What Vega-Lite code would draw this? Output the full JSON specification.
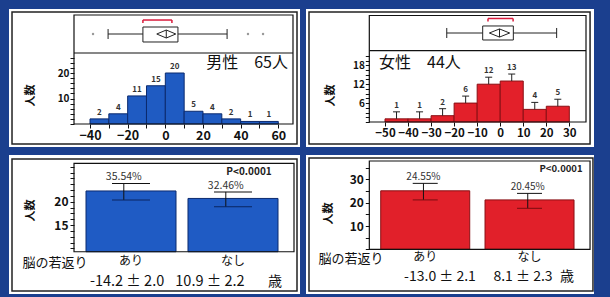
{
  "$schema": "https://vega.github.io/schema/vega-lite/v6.json",
  "background": "#1b3f8e",
  "padding": {"left": 9, "top": 9, "right": 16, "bottom": 3},
  "datasets": {
    "male_hist": [
      {"b0": -40, "b1": -30, "mid": -35, "n": 2},
      {"b0": -30, "b1": -20, "mid": -25, "n": 4},
      {"b0": -20, "b1": -10, "mid": -15, "n": 11},
      {"b0": -10, "b1": 0, "mid": -5, "n": 15},
      {"b0": 0, "b1": 10, "mid": 5, "n": 20},
      {"b0": 10, "b1": 20, "mid": 15, "n": 5},
      {"b0": 20, "b1": 30, "mid": 25, "n": 4},
      {"b0": 30, "b1": 40, "mid": 35, "n": 2},
      {"b0": 40, "b1": 50, "mid": 45, "n": 1},
      {"b0": 50, "b1": 60, "mid": 55, "n": 1}
    ],
    "female_hist": [
      {"b0": -50, "b1": -40, "mid": -45, "n": 1},
      {"b0": -40, "b1": -30, "mid": -35, "n": 1},
      {"b0": -30, "b1": -20, "mid": -25, "n": 2},
      {"b0": -20, "b1": -10, "mid": -15, "n": 6},
      {"b0": -10, "b1": 0, "mid": -5, "n": 12},
      {"b0": 0, "b1": 10, "mid": 5, "n": 13},
      {"b0": 10, "b1": 20, "mid": 15, "n": 4},
      {"b0": 20, "b1": 30, "mid": 25, "n": 5}
    ],
    "male_box": [{"wlo": -30.4, "q1": -11.9, "q3": 6.7, "whi": 32.8, "mean": 0.5, "slo": -11.9, "shi": 3.5, "title": "男性　65人"}],
    "male_out": [{"v": -38.4}, {"v": 43.9}, {"v": 51.9}],
    "female_box": [{"wlo": -23.2, "q1": -7.6, "q3": 5.7, "whi": 24.5, "mean": -0.3, "slo": -5.3, "shi": 5.6, "title": "女性　44人"}],
    "male_age": [
      {"g": "あり", "n": 22.3, "lo": 20.36, "hi": 23.9, "pct": "35.54%", "age": "-14.2 ± 2.0"},
      {"g": "なし", "n": 20.7, "lo": 18.9, "hi": 22.1, "pct": "32.46%", "age": "10.9 ± 2.2"}
    ],
    "female_age": [
      {"g": "あり", "n": 25.1, "lo": 21.2, "hi": 28.3, "pct": "24.55%", "age": "-13.0 ± 2.1"},
      {"g": "なし", "n": 21.2, "lo": 17.6, "hi": 24.0, "pct": "20.45%", "age": "8.1 ± 2.3"}
    ],
    "notes": [{"head": "脳の若返り", "unit": "歳", "p": "P<0.0001"}]
  },
  "spacing": 8,
  "vconcat": [
    {
      "spacing": 6,
      "hconcat": [
        {
          "width": 291, "height": 138,
          "resolve": {"axis": {"x": "independent", "y": "independent"}},
          "layer": [
            {"data": {"name": "male_hist"},
             "mark": {"type": "rect", "fill": "#1f5bc2", "stroke": "#0b2a6e", "strokeWidth": 1},
             "encoding": {
               "x": {"field": "b0", "type": "quantitative", "scale": {"domain": [-83.02, 71.52], "nice": false, "zero": false},
                     "axis": {"orient": "bottom", "offset": -23, "values": [-40, -30, -20, -10, 0, 10, 20, 30, 40, 50, 60], "labelExpr": "datum.value % 20 == 0 ? datum.label : ''", "tickSize": 4, "labelFontSize": 12.5, "labelFontWeight": "bold", "labelPadding": 1, "title": null, "labelOverlap": false, "labelFlush": false}},
               "x2": {"field": "b1"},
               "y": {"field": "n", "type": "quantitative", "scale": {"domain": [-9.02, 45.1], "nice": false, "zero": false},
                     "axis": {"orient": "left", "offset": -65, "values": [0, 2, 4, 6, 8, 10, 12, 14, 16, 18, 20, 22, 24, 26], "labelExpr": "datum.value == 10 || datum.value == 20 ? datum.label : ''", "tickSize": 4, "labelFontSize": 10, "labelFontWeight": "bold", "labelPadding": 1, "title": "人数", "titleX": -44, "titleY": 86, "titleAngle": 270, "titleFontSize": 11, "titleAlign": "center", "titleBaseline": "middle", "labelOverlap": false, "labelFlush": false}},
               "y2": {"datum": 0}}},
            {"data": {"name": "male_hist"},
             "mark": {"type": "text", "baseline": "bottom", "dy": -2, "fontSize": 8, "fontWeight": "bold", "color": "#333"},
             "encoding": {
               "x": {"field": "mid", "type": "quantitative", "scale": {"domain": [-83.02, 71.52], "nice": false, "zero": false}, "axis": null},
               "y": {"field": "n", "type": "quantitative", "scale": {"domain": [-9.02, 45.1], "nice": false, "zero": false}, "axis": null},
               "text": {"field": "n"}}},
            {"data": {"name": "male_box"},
             "mark": {"type": "rule", "color": "#222", "strokeWidth": 1},
             "encoding": {
               "x": {"field": "wlo", "type": "quantitative", "scale": {"domain": [-83.02, 71.52], "nice": false, "zero": false}, "axis": null},
               "x2": {"field": "whi"},
               "y": {"datum": 35.29, "type": "quantitative", "scale": {"domain": [-9.02, 45.1], "nice": false, "zero": false}, "axis": null}}},
            {"data": {"name": "male_box"},
             "mark": {"type": "rule", "color": "#222", "strokeWidth": 1},
             "encoding": {
               "x": {"field": "wlo", "type": "quantitative", "scale": {"domain": [-83.02, 71.52], "nice": false, "zero": false}, "axis": null},
               "y": {"datum": 37.25, "type": "quantitative", "scale": {"domain": [-9.02, 45.1], "nice": false, "zero": false}, "axis": null},
               "y2": {"datum": 33.33}}},
            {"data": {"name": "male_box"},
             "mark": {"type": "rule", "color": "#222", "strokeWidth": 1},
             "encoding": {
               "x": {"field": "whi", "type": "quantitative", "scale": {"domain": [-83.02, 71.52], "nice": false, "zero": false}, "axis": null},
               "y": {"datum": 37.25, "type": "quantitative", "scale": {"domain": [-9.02, 45.1], "nice": false, "zero": false}, "axis": null},
               "y2": {"datum": 33.33}}},
            {"data": {"name": "male_box"},
             "mark": {"type": "rect", "fill": "white", "stroke": "#222", "strokeWidth": 1},
             "encoding": {
               "x": {"field": "q1", "type": "quantitative", "scale": {"domain": [-83.02, 71.52], "nice": false, "zero": false}, "axis": null},
               "x2": {"field": "q3"},
               "y": {"datum": 32.16, "type": "quantitative", "scale": {"domain": [-9.02, 45.1], "nice": false, "zero": false}, "axis": null},
               "y2": {"datum": 38.04}}},
            {"data": {"name": "male_box"},
             "mark": {"type": "point", "shape": "M-1,0L0,-0.42L1,0L0,0.42ZM0,-0.42L0,0.42", "size": 361, "filled": false, "stroke": "#222", "strokeWidth": 1, "opacity": 1},
             "encoding": {
               "x": {"field": "mean", "type": "quantitative", "scale": {"domain": [-83.02, 71.52], "nice": false, "zero": false}, "axis": null},
               "y": {"datum": 35.29, "type": "quantitative", "scale": {"domain": [-9.02, 45.1], "nice": false, "zero": false}, "axis": null}}},
            {"data": {"name": "male_box"},
             "mark": {"type": "rule", "color": "#d81b3c", "strokeWidth": 1.5},
             "encoding": {
               "x": {"field": "slo", "type": "quantitative", "scale": {"domain": [-83.02, 71.52], "nice": false, "zero": false}, "axis": null},
               "x2": {"field": "shi"},
               "y": {"datum": 40.78, "type": "quantitative", "scale": {"domain": [-9.02, 45.1], "nice": false, "zero": false}, "axis": null}}},
            {"data": {"name": "male_box"},
             "mark": {"type": "rule", "color": "#d81b3c", "strokeWidth": 1.5},
             "encoding": {
               "x": {"field": "slo", "type": "quantitative", "scale": {"domain": [-83.02, 71.52], "nice": false, "zero": false}, "axis": null},
               "y": {"datum": 40.78, "type": "quantitative", "scale": {"domain": [-9.02, 45.1], "nice": false, "zero": false}, "axis": null},
               "y2": {"datum": 39.6}}},
            {"data": {"name": "male_box"},
             "mark": {"type": "rule", "color": "#d81b3c", "strokeWidth": 1.5},
             "encoding": {
               "x": {"field": "shi", "type": "quantitative", "scale": {"domain": [-83.02, 71.52], "nice": false, "zero": false}, "axis": null},
               "y": {"datum": 40.78, "type": "quantitative", "scale": {"domain": [-9.02, 45.1], "nice": false, "zero": false}, "axis": null},
               "y2": {"datum": 39.6}}},
            {"data": {"name": "male_out"},
             "mark": {"type": "point", "filled": true, "size": 6, "color": "#999", "opacity": 1},
             "encoding": {
               "x": {"field": "v", "type": "quantitative", "scale": {"domain": [-83.02, 71.52], "nice": false, "zero": false}, "axis": null},
               "y": {"datum": 35.29, "type": "quantitative", "scale": {"domain": [-9.02, 45.1], "nice": false, "zero": false}, "axis": null}}},
            {"data": {"name": "male_box"},
             "mark": {"type": "text", "align": "right", "baseline": "middle", "fontSize": 16, "color": "#111"},
             "encoding": {
               "x": {"datum": 65.15, "type": "quantitative", "scale": {"domain": [-83.02, 71.52], "nice": false, "zero": false}, "axis": null},
               "y": {"datum": 24.1, "type": "quantitative", "scale": {"domain": [-9.02, 45.1], "nice": false, "zero": false}, "axis": null},
               "text": {"field": "title"}}},
            {"data": {"values": [{}]},
             "mark": {"type": "rule", "color": "#111", "strokeWidth": 1.2},
             "encoding": {
               "x": {"datum": -48.5, "type": "quantitative", "scale": {"domain": [-83.02, 71.52], "nice": false, "zero": false}, "axis": null},
               "x2": {"datum": 67.8},
               "y": {"datum": 27.84, "type": "quantitative", "scale": {"domain": [-9.02, 45.1], "nice": false, "zero": false}, "axis": null}}},
            {"data": {"values": [{}]},
             "mark": {"type": "rect", "fill": "transparent", "stroke": "#111", "strokeWidth": 1.2},
             "encoding": {
               "x": {"datum": -48.5, "type": "quantitative", "scale": {"domain": [-83.02, 71.52], "nice": false, "zero": false}, "axis": null},
               "x2": {"datum": 67.8},
               "y": {"datum": 0, "type": "quantitative", "scale": {"domain": [-9.02, 45.1], "nice": false, "zero": false}, "axis": null},
               "y2": {"datum": 42.75}}},
            {"data": {"values": [{}]},
             "mark": {"type": "rect", "fill": "transparent", "stroke": "#222", "strokeWidth": 1.5},
             "encoding": {
               "x": {"datum": -81.42, "type": "quantitative", "scale": {"domain": [-83.02, 71.52], "nice": false, "zero": false}, "axis": null},
               "x2": {"datum": 69.93},
               "y": {"datum": -7.84, "type": "quantitative", "scale": {"domain": [-9.02, 45.1], "nice": false, "zero": false}, "axis": null},
               "y2": {"datum": 43.92}}}
          ]
        },
        {
          "width": 288, "height": 138,
          "resolve": {"axis": {"x": "independent", "y": "independent"}},
          "layer": [
            {"data": {"name": "female_hist"},
             "mark": {"type": "rect", "fill": "#e3202a", "stroke": "#8a0f14", "strokeWidth": 1},
             "encoding": {
               "x": {"field": "b0", "type": "quantitative", "scale": {"domain": [-84.29, 40.71], "nice": false, "zero": false},
                     "axis": {"orient": "bottom", "offset": -25, "values": [-50, -40, -30, -20, -10, 0, 10, 20, 30], "tickSize": 4, "labelFontSize": 11.5, "labelFontWeight": "bold", "labelPadding": 1, "title": null, "labelOverlap": false, "labelFlush": false, "labelSeparation": 0}},
               "x2": {"field": "b1"},
               "y": {"field": "n", "type": "quantitative", "scale": {"domain": [-7.94, 35.87], "nice": false, "zero": false},
                     "axis": {"orient": "left", "offset": -63.3, "values": [0, 1.5, 3, 4.5, 6, 7.5, 9, 10.5, 12, 13.5, 15, 16.5, 18, 19.5, 21], "labelExpr": "datum.value == 6 || datum.value == 12 || datum.value == 18 ? datum.label : ''", "tickSize": 4, "labelFontSize": 10, "labelFontWeight": "bold", "labelPadding": 1, "title": "人数", "titleX": -39, "titleY": 86, "titleAngle": 270, "titleFontSize": 11, "titleAlign": "center", "titleBaseline": "middle", "labelOverlap": false, "labelFlush": false}},
               "y2": {"datum": 0}}},
            {"data": {"name": "female_hist"},
             "mark": {"type": "rule", "color": "#222", "strokeWidth": 1, "y2Offset": -7},
             "encoding": {
               "x": {"field": "mid", "type": "quantitative", "scale": {"domain": [-84.29, 40.71], "nice": false, "zero": false}, "axis": null},
               "y": {"field": "n", "type": "quantitative", "scale": {"domain": [-7.94, 35.87], "nice": false, "zero": false}, "axis": null},
               "y2": {"field": "n"}}},
            {"data": {"name": "female_hist"},
             "mark": {"type": "tick", "orient": "horizontal", "size": 7, "thickness": 1, "yOffset": -7, "color": "#222", "opacity": 1},
             "encoding": {
               "x": {"field": "mid", "type": "quantitative", "scale": {"domain": [-84.29, 40.71], "nice": false, "zero": false}, "axis": null},
               "y": {"field": "n", "type": "quantitative", "scale": {"domain": [-7.94, 35.87], "nice": false, "zero": false}, "axis": null}}},
            {"data": {"name": "female_hist"},
             "mark": {"type": "text", "baseline": "bottom", "dy": -9, "fontSize": 8, "fontWeight": "bold", "color": "#333"},
             "encoding": {
               "x": {"field": "mid", "type": "quantitative", "scale": {"domain": [-84.29, 40.71], "nice": false, "zero": false}, "axis": null},
               "y": {"field": "n", "type": "quantitative", "scale": {"domain": [-7.94, 35.87], "nice": false, "zero": false}, "axis": null},
               "text": {"field": "n"}}},
            {"data": {"name": "female_box"},
             "mark": {"type": "rule", "color": "#222", "strokeWidth": 1},
             "encoding": {
               "x": {"field": "wlo", "type": "quantitative", "scale": {"domain": [-84.29, 40.71], "nice": false, "zero": false}, "axis": null},
               "x2": {"field": "whi"},
               "y": {"datum": 28.25, "type": "quantitative", "scale": {"domain": [-7.94, 35.87], "nice": false, "zero": false}, "axis": null}}},
            {"data": {"name": "female_box"},
             "mark": {"type": "rule", "color": "#222", "strokeWidth": 1},
             "encoding": {
               "x": {"field": "wlo", "type": "quantitative", "scale": {"domain": [-84.29, 40.71], "nice": false, "zero": false}, "axis": null},
               "y": {"datum": 29.84, "type": "quantitative", "scale": {"domain": [-7.94, 35.87], "nice": false, "zero": false}, "axis": null},
               "y2": {"datum": 26.66}}},
            {"data": {"name": "female_box"},
             "mark": {"type": "rule", "color": "#222", "strokeWidth": 1},
             "encoding": {
               "x": {"field": "whi", "type": "quantitative", "scale": {"domain": [-84.29, 40.71], "nice": false, "zero": false}, "axis": null},
               "y": {"datum": 29.84, "type": "quantitative", "scale": {"domain": [-7.94, 35.87], "nice": false, "zero": false}, "axis": null},
               "y2": {"datum": 26.66}}},
            {"data": {"name": "female_box"},
             "mark": {"type": "rect", "fill": "white", "stroke": "#222", "strokeWidth": 1},
             "encoding": {
               "x": {"field": "q1", "type": "quantitative", "scale": {"domain": [-84.29, 40.71], "nice": false, "zero": false}, "axis": null},
               "x2": {"field": "q3"},
               "y": {"datum": 26.03, "type": "quantitative", "scale": {"domain": [-7.94, 35.87], "nice": false, "zero": false}, "axis": null},
               "y2": {"datum": 30.48}}},
            {"data": {"name": "female_box"},
             "mark": {"type": "point", "shape": "M-1,0L0,-0.4L1,0L0,0.4ZM0,-0.4L0,0.4", "size": 412, "filled": false, "stroke": "#222", "strokeWidth": 1, "opacity": 1},
             "encoding": {
               "x": {"field": "mean", "type": "quantitative", "scale": {"domain": [-84.29, 40.71], "nice": false, "zero": false}, "axis": null},
               "y": {"datum": 28.25, "type": "quantitative", "scale": {"domain": [-7.94, 35.87], "nice": false, "zero": false}, "axis": null}}},
            {"data": {"name": "female_box"},
             "mark": {"type": "rule", "color": "#d81b3c", "strokeWidth": 1.5},
             "encoding": {
               "x": {"field": "slo", "type": "quantitative", "scale": {"domain": [-84.29, 40.71], "nice": false, "zero": false}, "axis": null},
               "x2": {"field": "shi"},
               "y": {"datum": 32.86, "type": "quantitative", "scale": {"domain": [-7.94, 35.87], "nice": false, "zero": false}, "axis": null}}},
            {"data": {"name": "female_box"},
             "mark": {"type": "rule", "color": "#d81b3c", "strokeWidth": 1.5},
             "encoding": {
               "x": {"field": "slo", "type": "quantitative", "scale": {"domain": [-84.29, 40.71], "nice": false, "zero": false}, "axis": null},
               "y": {"datum": 32.86, "type": "quantitative", "scale": {"domain": [-7.94, 35.87], "nice": false, "zero": false}, "axis": null},
               "y2": {"datum": 31.9}}},
            {"data": {"name": "female_box"},
             "mark": {"type": "rule", "color": "#d81b3c", "strokeWidth": 1.5},
             "encoding": {
               "x": {"field": "shi", "type": "quantitative", "scale": {"domain": [-84.29, 40.71], "nice": false, "zero": false}, "axis": null},
               "y": {"datum": 32.86, "type": "quantitative", "scale": {"domain": [-7.94, 35.87], "nice": false, "zero": false}, "axis": null},
               "y2": {"datum": 31.9}}},
            {"data": {"name": "female_box"},
             "mark": {"type": "text", "align": "left", "baseline": "middle", "fontSize": 16, "color": "#111"},
             "encoding": {
               "x": {"datum": -52.6, "type": "quantitative", "scale": {"domain": [-84.29, 40.71], "nice": false, "zero": false}, "axis": null},
               "y": {"datum": 18.73, "type": "quantitative", "scale": {"domain": [-7.94, 35.87], "nice": false, "zero": false}, "axis": null},
               "text": {"field": "title"}}},
            {"data": {"values": [{}]},
             "mark": {"type": "rule", "color": "#111", "strokeWidth": 1.2},
             "encoding": {
               "x": {"datum": -56.81, "type": "quantitative", "scale": {"domain": [-84.29, 40.71], "nice": false, "zero": false}, "axis": null},
               "x2": {"datum": 37.24},
               "y": {"datum": 22.63, "type": "quantitative", "scale": {"domain": [-7.94, 35.87], "nice": false, "zero": false}, "axis": null}}},
            {"data": {"values": [{}]},
             "mark": {"type": "rect", "fill": "transparent", "stroke": "#111", "strokeWidth": 1.2},
             "encoding": {
               "x": {"datum": -56.81, "type": "quantitative", "scale": {"domain": [-84.29, 40.71], "nice": false, "zero": false}, "axis": null},
               "x2": {"datum": 37.24},
               "y": {"datum": 0, "type": "quantitative", "scale": {"domain": [-7.94, 35.87], "nice": false, "zero": false}, "axis": null},
               "y2": {"datum": 33.8}}},
            {"data": {"values": [{}]},
             "mark": {"type": "rect", "fill": "transparent", "stroke": "#222", "strokeWidth": 1.5},
             "encoding": {
               "x": {"datum": -82.99, "type": "quantitative", "scale": {"domain": [-84.29, 40.71], "nice": false, "zero": false}, "axis": null},
               "x2": {"datum": 39.0},
               "y": {"datum": -6.98, "type": "quantitative", "scale": {"domain": [-7.94, 35.87], "nice": false, "zero": false}, "axis": null},
               "y2": {"datum": 34.92}}}
          ]
        }
      ]
    },
    {
      "spacing": 6,
      "hconcat": [
        {
          "width": 291, "height": 139,
          "resolve": {"axis": {"x": "independent", "y": "independent"}},
          "layer": [
            {"data": {"name": "male_age"},
             "mark": {"type": "bar", "fill": "#1f5bc4", "stroke": "#0b2a6e", "strokeWidth": 1},
             "encoding": {
               "x": {"field": "g", "type": "nominal", "sort": null, "scale": {"type": "band", "domain": ["あり", "なし"], "paddingInner": 0.1176, "paddingOuter": 0.4853, "align": 0.7778},
                     "axis": {"orient": "bottom", "offset": -42.3, "ticks": false, "domain": false, "labelAngle": 0, "labelFontSize": 12, "labelPadding": 4, "bandPosition": 0.47, "title": null, "labelColor": "#111"}},
               "y": {"field": "n", "type": "quantitative", "scale": {"domain": [0.24, 30.0], "nice": false, "zero": false},
                     "axis": {"orient": "left", "offset": -65, "values": [10, 11.25, 12.5, 13.75, 15, 16.25, 17.5, 18.75, 20, 21.25, 22.5, 23.75, 25, 26.25, 27.5], "labelExpr": "datum.value == 15 || datum.value == 20 ? datum.label : ''", "tickSize": 4, "labelFontSize": 12, "labelFontWeight": "bold", "labelPadding": 2, "title": "人数", "titleX": -44, "titleY": 55, "titleAngle": 270, "titleFontSize": 11, "titleAlign": "center", "titleBaseline": "middle", "labelOverlap": false, "labelFlush": false}},
               "y2": {"datum": 9.29}}},
            {"data": {"name": "male_age"},
             "mark": {"type": "rule", "color": "#111", "strokeWidth": 1},
             "encoding": {
               "x": {"field": "g", "type": "nominal", "bandPosition": 0.42, "scale": {"type": "band", "domain": ["あり", "なし"], "paddingInner": 0.1176, "paddingOuter": 0.4853, "align": 0.7778}, "axis": null},
               "y": {"field": "lo", "type": "quantitative", "scale": {"domain": [0.24, 30.0], "nice": false, "zero": false}, "axis": null},
               "y2": {"field": "hi"}}},
            {"data": {"name": "male_age"},
             "mark": {"type": "tick", "orient": "horizontal", "size": 38, "thickness": 1, "color": "#111", "opacity": 1},
             "encoding": {
               "x": {"field": "g", "type": "nominal", "bandPosition": 0.42, "scale": {"type": "band", "domain": ["あり", "なし"], "paddingInner": 0.1176, "paddingOuter": 0.4853, "align": 0.7778}, "axis": null},
               "y": {"field": "hi", "type": "quantitative", "scale": {"domain": [0.24, 30.0], "nice": false, "zero": false}, "axis": null}}},
            {"data": {"name": "male_age"},
             "mark": {"type": "tick", "orient": "horizontal", "size": 38, "thickness": 1, "color": "#0a2560", "opacity": 1},
             "encoding": {
               "x": {"field": "g", "type": "nominal", "bandPosition": 0.42, "scale": {"type": "band", "domain": ["あり", "なし"], "paddingInner": 0.1176, "paddingOuter": 0.4853, "align": 0.7778}, "axis": null},
               "y": {"field": "lo", "type": "quantitative", "scale": {"domain": [0.24, 30.0], "nice": false, "zero": false}, "axis": null}}},
            {"data": {"name": "male_age"},
             "mark": {"type": "text", "baseline": "bottom", "dy": -1, "fontSize": 10.5, "color": "#333"},
             "encoding": {
               "x": {"field": "g", "type": "nominal", "bandPosition": 0.42, "scale": {"type": "band", "domain": ["あり", "なし"], "paddingInner": 0.1176, "paddingOuter": 0.4853, "align": 0.7778}, "axis": null},
               "y": {"field": "hi", "type": "quantitative", "scale": {"domain": [0.24, 30.0], "nice": false, "zero": false}, "axis": null},
               "text": {"field": "pct"}}},
            {"data": {"name": "male_age"},
             "transform": [{"filter": "datum.g === 'あり'"}],
             "mark": {"type": "text", "baseline": "middle", "fontSize": 14.5, "color": "#111"},
             "encoding": {
               "x": {"field": "g", "type": "nominal", "bandPosition": 0.456, "scale": {"type": "band", "domain": ["あり", "なし"], "paddingInner": 0.1176, "paddingOuter": 0.4853, "align": 0.7778}, "axis": null},
               "y": {"datum": 2.75, "type": "quantitative", "scale": {"domain": [0.24, 30.0], "nice": false, "zero": false}, "axis": null},
               "text": {"field": "age"}}},
            {"data": {"name": "male_age"},
             "transform": [{"filter": "datum.g === 'なし'"}],
             "mark": {"type": "text", "baseline": "middle", "fontSize": 14.5, "color": "#111"},
             "encoding": {
               "x": {"field": "g", "type": "nominal", "bandPosition": 0.244, "scale": {"type": "band", "domain": ["あり", "なし"], "paddingInner": 0.1176, "paddingOuter": 0.4853, "align": 0.7778}, "axis": null},
               "y": {"datum": 2.75, "type": "quantitative", "scale": {"domain": [0.24, 30.0], "nice": false, "zero": false}, "axis": null},
               "text": {"field": "age"}}},
            {"data": {"name": "notes"},
             "mark": {"type": "text", "baseline": "middle", "fontSize": 13, "color": "#111"},
             "encoding": {
               "x": {"datum": "あり", "type": "nominal", "bandPosition": -0.344, "scale": {"type": "band", "domain": ["あり", "なし"], "paddingInner": 0.1176, "paddingOuter": 0.4853, "align": 0.7778}, "axis": null},
               "y": {"datum": 6.87, "type": "quantitative", "scale": {"domain": [0.24, 30.0], "nice": false, "zero": false}, "axis": null},
               "text": {"field": "head"}}},
            {"data": {"name": "notes"},
             "mark": {"type": "text", "baseline": "middle", "fontSize": 14, "color": "#111"},
             "encoding": {
               "x": {"datum": "なし", "type": "nominal", "bandPosition": 0.967, "scale": {"type": "band", "domain": ["あり", "なし"], "paddingInner": 0.1176, "paddingOuter": 0.4853, "align": 0.7778}, "axis": null},
               "y": {"datum": 2.75, "type": "quantitative", "scale": {"domain": [0.24, 30.0], "nice": false, "zero": false}, "axis": null},
               "text": {"field": "unit"}}},
            {"data": {"name": "notes"},
             "mark": {"type": "text", "baseline": "middle", "fontSize": 10, "fontWeight": "bold", "color": "#222"},
             "encoding": {
               "x": {"datum": "なし", "type": "nominal", "bandPosition": 0.678, "scale": {"type": "band", "domain": ["あり", "なし"], "paddingInner": 0.1176, "paddingOuter": 0.4853, "align": 0.7778}, "axis": null},
               "y": {"datum": 26.42, "type": "quantitative", "scale": {"domain": [0.24, 30.0], "nice": false, "zero": false}, "axis": null},
               "text": {"field": "p"}}},
            {"data": {"values": [{}]},
             "mark": {"type": "rect", "fill": "transparent", "stroke": "#111", "strokeWidth": 1.2},
             "encoding": {
               "x": {"datum": "あり", "type": "nominal", "bandPosition": -0.1333, "scale": {"type": "band", "domain": ["あり", "なし"], "paddingInner": 0.1176, "paddingOuter": 0.4853, "align": 0.7778}, "axis": null},
               "x2": {"datum": "なし", "bandPosition": 1.1778},
               "y": {"datum": 9.29, "type": "quantitative", "scale": {"domain": [0.24, 30.0], "nice": false, "zero": false}, "axis": null},
               "y2": {"datum": 28.22}}},
            {"data": {"values": [{}]},
             "mark": {"type": "rect", "fill": "transparent", "stroke": "#222", "strokeWidth": 1.5},
             "encoding": {
               "x": {"datum": "あり", "type": "nominal", "bandPosition": -0.8222, "scale": {"type": "band", "domain": ["あり", "なし"], "paddingInner": 0.1176, "paddingOuter": 0.4853, "align": 0.7778}, "axis": null},
               "x2": {"datum": "なし", "bandPosition": 1.2111},
               "y": {"datum": 0.88, "type": "quantitative", "scale": {"domain": [0.24, 30.0], "nice": false, "zero": false}, "axis": null},
               "y2": {"datum": 29.14}}}
          ]
        },
        {
          "width": 288, "height": 139,
          "resolve": {"axis": {"x": "independent", "y": "independent"}},
          "layer": [
            {"data": {"name": "female_age"},
             "mark": {"type": "bar", "fill": "#e1202a", "stroke": "#8a0f14", "strokeWidth": 1},
             "encoding": {
               "x": {"field": "g", "type": "nominal", "sort": null, "scale": {"type": "band", "domain": ["あり", "なし"], "paddingInner": 0.1467, "paddingOuter": 0.454, "align": 0.789},
                     "axis": {"orient": "bottom", "offset": -44.7, "ticks": false, "domain": false, "labelAngle": 0, "labelFontSize": 12, "labelPadding": 2, "bandPosition": 0.49, "title": null, "labelColor": "#111"}},
               "y": {"field": "n", "type": "quantitative", "scale": {"domain": [-19.18, 40.47], "nice": false, "zero": false},
                     "axis": {"orient": "left", "offset": -63.3, "values": [0, 5, 10, 15, 20, 25, 30, 35], "labelExpr": "datum.value == 10 || datum.value == 20 || datum.value == 30 ? datum.label : ''", "tickSize": 4, "labelFontSize": 12, "labelFontWeight": "bold", "labelPadding": 2, "title": "人数", "titleX": -41, "titleY": 58, "titleAngle": 270, "titleFontSize": 11, "titleAlign": "center", "titleBaseline": "middle", "labelOverlap": false, "labelFlush": false}},
               "y2": {"datum": 0}}},
            {"data": {"name": "female_age"},
             "mark": {"type": "rule", "color": "#111", "strokeWidth": 1},
             "encoding": {
               "x": {"field": "g", "type": "nominal", "bandPosition": 0.48, "scale": {"type": "band", "domain": ["あり", "なし"], "paddingInner": 0.1467, "paddingOuter": 0.454, "align": 0.789}, "axis": null},
               "y": {"field": "lo", "type": "quantitative", "scale": {"domain": [-19.18, 40.47], "nice": false, "zero": false}, "axis": null},
               "y2": {"field": "hi"}}},
            {"data": {"name": "female_age"},
             "mark": {"type": "tick", "orient": "horizontal", "size": 25, "thickness": 1, "color": "#111", "opacity": 1},
             "encoding": {
               "x": {"field": "g", "type": "nominal", "bandPosition": 0.48, "scale": {"type": "band", "domain": ["あり", "なし"], "paddingInner": 0.1467, "paddingOuter": 0.454, "align": 0.789}, "axis": null},
               "y": {"field": "hi", "type": "quantitative", "scale": {"domain": [-19.18, 40.47], "nice": false, "zero": false}, "axis": null}}},
            {"data": {"name": "female_age"},
             "mark": {"type": "tick", "orient": "horizontal", "size": 25, "thickness": 1, "color": "#7a0c10", "opacity": 1},
             "encoding": {
               "x": {"field": "g", "type": "nominal", "bandPosition": 0.48, "scale": {"type": "band", "domain": ["あり", "なし"], "paddingInner": 0.1467, "paddingOuter": 0.454, "align": 0.789}, "axis": null},
               "y": {"field": "lo", "type": "quantitative", "scale": {"domain": [-19.18, 40.47], "nice": false, "zero": false}, "axis": null}}},
            {"data": {"name": "female_age"},
             "mark": {"type": "text", "baseline": "bottom", "dy": -1, "fontSize": 10, "color": "#333"},
             "encoding": {
               "x": {"field": "g", "type": "nominal", "bandPosition": 0.48, "scale": {"type": "band", "domain": ["あり", "なし"], "paddingInner": 0.1467, "paddingOuter": 0.454, "align": 0.789}, "axis": null},
               "y": {"field": "hi", "type": "quantitative", "scale": {"domain": [-19.18, 40.47], "nice": false, "zero": false}, "axis": null},
               "text": {"field": "pct"}}},
            {"data": {"name": "female_age"},
             "transform": [{"filter": "datum.g === 'あり'"}],
             "mark": {"type": "text", "baseline": "middle", "fontSize": 14, "color": "#111"},
             "encoding": {
               "x": {"field": "g", "type": "nominal", "bandPosition": 0.666, "scale": {"type": "band", "domain": ["あり", "なし"], "paddingInner": 0.1467, "paddingOuter": 0.454, "align": 0.789}, "axis": null},
               "y": {"datum": -11.9, "type": "quantitative", "scale": {"domain": [-19.18, 40.47], "nice": false, "zero": false}, "axis": null},
               "text": {"field": "age"}}},
            {"data": {"name": "female_age"},
             "transform": [{"filter": "datum.g === 'なし'"}],
             "mark": {"type": "text", "baseline": "middle", "fontSize": 14, "color": "#111"},
             "encoding": {
               "x": {"field": "g", "type": "nominal", "bandPosition": 0.427, "scale": {"type": "band", "domain": ["あり", "なし"], "paddingInner": 0.1467, "paddingOuter": 0.454, "align": 0.789}, "axis": null},
               "y": {"datum": -11.9, "type": "quantitative", "scale": {"domain": [-19.18, 40.47], "nice": false, "zero": false}, "axis": null},
               "text": {"field": "age"}}},
            {"data": {"name": "notes"},
             "mark": {"type": "text", "baseline": "middle", "fontSize": 13, "color": "#111"},
             "encoding": {
               "x": {"datum": "あり", "type": "nominal", "bandPosition": -0.334, "scale": {"type": "band", "domain": ["あり", "なし"], "paddingInner": 0.1467, "paddingOuter": 0.454, "align": 0.789}, "axis": null},
               "y": {"datum": -4.16, "type": "quantitative", "scale": {"domain": [-19.18, 40.47], "nice": false, "zero": false}, "axis": null},
               "text": {"field": "head"}}},
            {"data": {"name": "notes"},
             "mark": {"type": "text", "baseline": "middle", "fontSize": 14, "color": "#111"},
             "encoding": {
               "x": {"datum": "なし", "type": "nominal", "bandPosition": 0.921, "scale": {"type": "band", "domain": ["あり", "なし"], "paddingInner": 0.1467, "paddingOuter": 0.454, "align": 0.789}, "axis": null},
               "y": {"datum": -11.9, "type": "quantitative", "scale": {"domain": [-19.18, 40.47], "nice": false, "zero": false}, "axis": null},
               "text": {"field": "unit"}}},
            {"data": {"name": "notes"},
             "mark": {"type": "text", "baseline": "middle", "fontSize": 9.5, "fontWeight": "bold", "color": "#222"},
             "encoding": {
               "x": {"datum": "なし", "type": "nominal", "bandPosition": 0.854, "scale": {"type": "band", "domain": ["あり", "なし"], "paddingInner": 0.1467, "paddingOuter": 0.454, "align": 0.789}, "axis": null},
               "y": {"datum": 34.33, "type": "quantitative", "scale": {"domain": [-19.18, 40.47], "nice": false, "zero": false}, "axis": null},
               "text": {"field": "p"}}},
            {"data": {"values": [{}]},
             "mark": {"type": "rect", "fill": "transparent", "stroke": "#111", "strokeWidth": 1.2},
             "encoding": {
               "x": {"datum": "あり", "type": "nominal", "bandPosition": -0.128, "scale": {"type": "band", "domain": ["あり", "なし"], "paddingInner": 0.1467, "paddingOuter": 0.454, "align": 0.789}, "axis": null},
               "x2": {"datum": "なし", "bandPosition": 1.18},
               "y": {"datum": 0, "type": "quantitative", "scale": {"domain": [-19.18, 40.47], "nice": false, "zero": false}, "axis": null},
               "y2": {"datum": 37.9}}},
            {"data": {"values": [{}]},
             "mark": {"type": "rect", "fill": "transparent", "stroke": "#222", "strokeWidth": 1.5},
             "encoding": {
               "x": {"datum": "あり", "type": "nominal", "bandPosition": -0.806, "scale": {"type": "band", "domain": ["あり", "なし"], "paddingInner": 0.1467, "paddingOuter": 0.454, "align": 0.789}, "axis": null},
               "x2": {"datum": "なし", "bandPosition": 1.213},
               "y": {"datum": -17.9, "type": "quantitative", "scale": {"domain": [-19.18, 40.47], "nice": false, "zero": false}, "axis": null},
               "y2": {"datum": 39.18}}}
          ]
        }
      ]
    }
  ],
  "config": {
    "font": "Noto Sans CJK JP",
    "view": {"stroke": null, "fill": "white"},
    "axis": {"grid": false, "domain": false, "tickColor": "#111", "labelColor": "#111", "titleColor": "#111"}
  }
}
